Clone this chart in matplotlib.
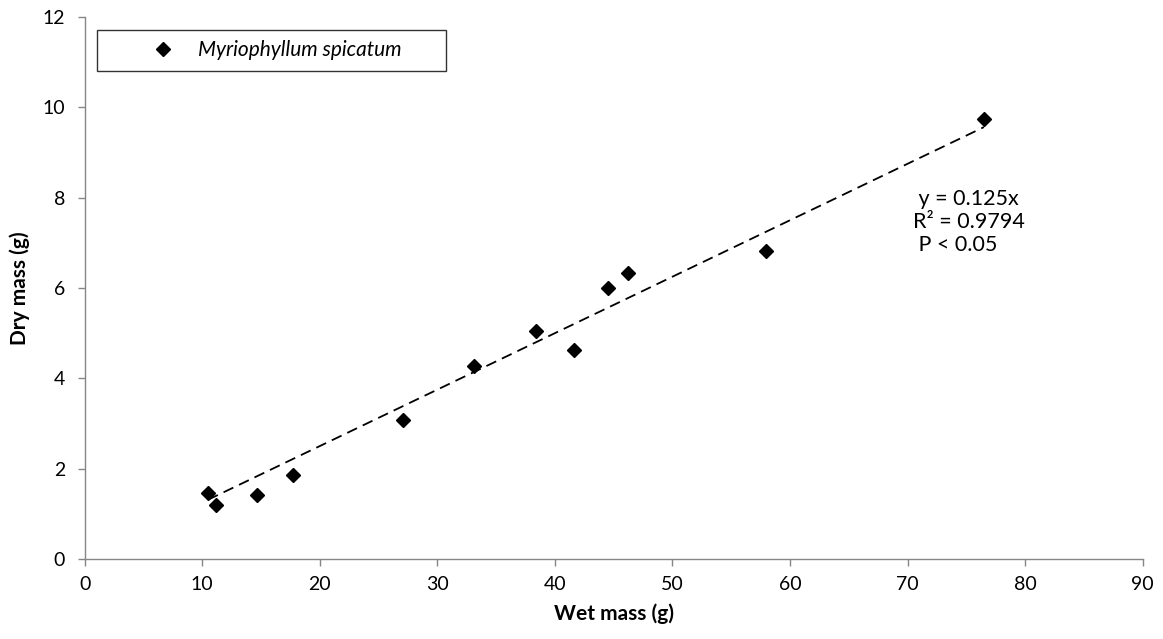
import numpy as np
import matplotlib.pyplot as plt

plt.rcParams['font.family'] = ['Lato', 'DejaVu Sans']

# wet mass (g) and dry mass (g) of Myriophyllum spicatum samples
wet_mass = [10.5, 11.2, 14.7, 17.7, 27.1, 33.1, 38.4, 41.6, 44.5, 46.2, 58.0, 76.5]
dry_mass = [1.46, 1.20, 1.41, 1.85, 3.08, 4.27, 5.05, 4.63, 5.99, 6.34, 6.82, 9.75]
slope = 0.125

x_ticks = np.arange(0, 91, 10)
y_ticks = np.arange(0, 13, 2)

fig = plt.figure(figsize=(11.63, 6.39), dpi=100)
ax = fig.add_axes([0.0728, 0.1252, 0.9097, 0.8482])

ax.plot(wet_mass, dry_mass, linestyle='none', marker='D', markersize=7.5,
        color='black', label='Myriophyllum spicatum', zorder=3)

# linear trendline through origin, spanning the data range
xfit = np.array([min(wet_mass), max(wet_mass)])
ax.plot(xfit, slope * xfit, color='black', linestyle=(0, (6, 3.5)), linewidth=1.3)

ax.set_xlim(0, 90)
ax.set_ylim(0, 12)
ax.set_xticks(x_ticks)
ax.set_yticks(y_ticks)

for side in ['top', 'right']:
    ax.spines[side].set_visible(False)
for side in ['left', 'bottom']:
    ax.spines[side].set_color('#868686')
    ax.spines[side].set_linewidth(1.0)
ax.tick_params(direction='out', length=5, width=1.0, color='#868686', labelsize=14)
ax.tick_params(axis='x', pad=7)
ax.tick_params(axis='y', pad=9)

ax.set_xlabel('Wet mass (g)', fontsize=15, fontweight='bold', labelpad=8)
ax.set_ylabel('Dry mass (g)', fontsize=15, fontweight='bold', labelpad=9)

ax.text(0.783, 0.622, ' y = 0.125x\nR² = 0.9794\n P < 0.05', transform=ax.transAxes,
        fontsize=15.5, ha='left', va='center', linespacing=1.2)

leg = ax.legend(loc='upper left', bbox_to_anchor=(0.0116, 0.0, 0.3299, 0.976),
                mode='expand', frameon=True, fancybox=False, edgecolor='black',
                prop={'style': 'italic', 'size': 15}, borderpad=0.5,
                handlelength=5.3, handletextpad=-0.96, markerscale=0.9,
                borderaxespad=0)
leg.get_frame().set_linewidth(1.0)

fig.savefig('out.png', dpi=100)
